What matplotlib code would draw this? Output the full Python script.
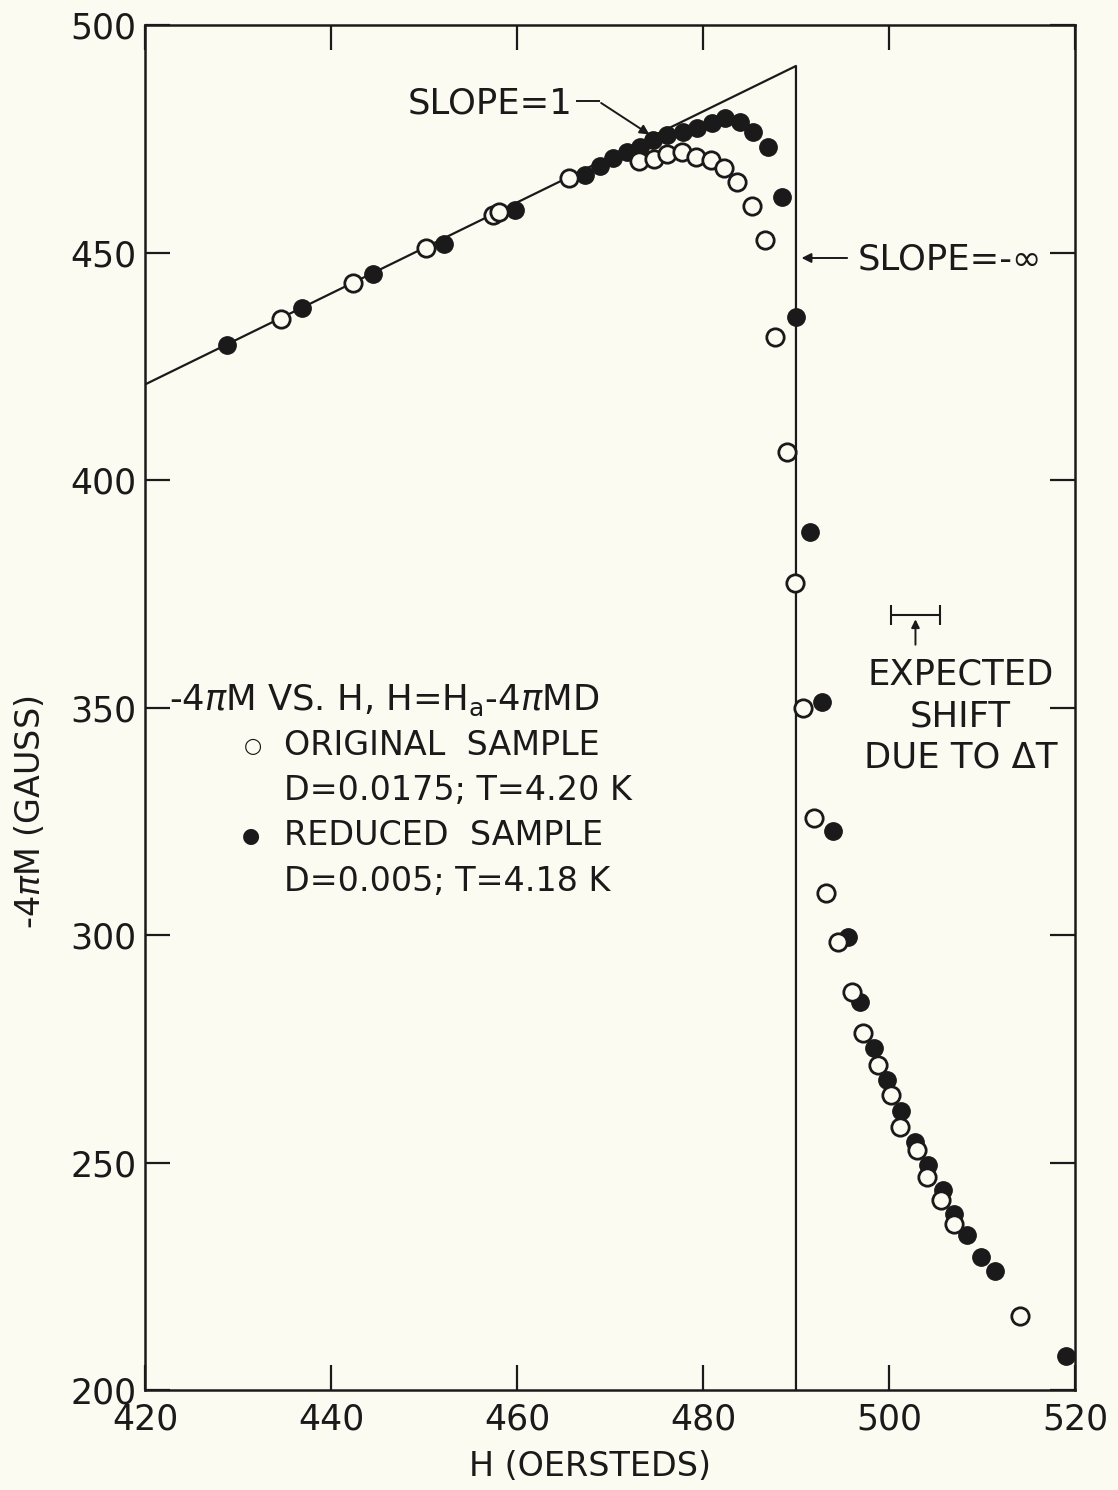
import matplotlib.pyplot as plt

# original sample (open circles), D=0.0175, T=4.20 K
orig_H = [434.6, 442.4, 450.2, 457.4, 458.1, 465.6, 473.1, 474.7, 476.1, 477.7,
          479.2, 480.9, 482.3, 483.7, 485.3, 486.7, 487.7, 489.0, 489.9, 490.8,
          491.9, 493.2, 494.5, 496.0, 497.2, 498.8, 500.2, 501.2, 503.0, 504.1,
          505.6, 507.0, 514.1]
orig_M = [435.4, 443.2, 451.0, 458.2, 458.9, 466.4, 470.1, 470.5, 471.6, 472.1,
          471.0, 470.3, 468.6, 465.5, 460.2, 452.7, 431.5, 406.2, 377.3, 349.8,
          325.7, 309.2, 298.5, 287.5, 278.4, 271.4, 264.8, 257.7, 252.7, 246.9,
          241.7, 236.5, 216.2]

# reduced sample (filled circles), D=0.005, T=4.18 K
red_H = [428.8, 436.9, 444.5, 452.2, 459.8, 467.3, 468.9, 470.3, 471.8, 473.2,
         474.6, 476.1, 477.8, 479.4, 481.0, 482.4, 484.0, 485.4, 487.0, 488.5,
         490.0, 491.5, 492.8, 494.0, 495.6, 496.9, 498.4, 499.8, 501.3, 502.8,
         504.2, 505.8, 507.0, 508.4, 509.9, 511.4, 519.0]
red_M = [429.6, 437.7, 445.3, 451.8, 459.3, 467.0, 469.0, 470.8, 472.1, 473.2,
         474.7, 475.8, 476.5, 477.4, 478.5, 479.6, 478.7, 476.5, 473.2, 462.2,
         435.9, 388.6, 351.3, 322.9, 299.6, 285.3, 275.1, 268.1, 261.4, 254.6,
         249.5, 243.9, 238.7, 234.0, 229.2, 226.2, 207.5]

# ideal curve: slope 1 then vertical drop at Hc
ideal_H = [420, 490, 490]
ideal_M = [421, 491, 200]

xticks = [420, 440, 460, 480, 500, 520]
yticks = [200, 250, 300, 350, 400, 450, 500]

bg = '#fcfbf2'
ink = '#1a1a1a'
fs = 25.5
fl = 24
plt.rcParams['font.family'] = ['DejaVu Sans']
plt.rcParams['mathtext.fontset'] = 'dejavusans'

fig = plt.figure(figsize=(11.18, 14.90), dpi=100, facecolor=bg)
ax = fig.add_axes([0.1297, 0.0671, 0.8318, 0.9161])
ax.set_facecolor(bg)

ax.plot(ideal_H, ideal_M, color=ink, lw=1.6, zorder=2)
ax.plot(red_H, red_M, 'o', ms=12.5, color=ink, mec=ink, zorder=3)
ax.plot(orig_H, orig_M, 'o', ms=12.5, mfc=bg, mec=ink, mew=2.0, zorder=4)

ax.set_xlim(420, 520)
ax.set_ylim(200, 500)
ax.set_xticks(xticks)
ax.set_yticks(yticks)
ax.tick_params(direction='in', length=18, width=1.6, labelsize=25,
               top=True, right=True, colors=ink, pad=6)
ax.tick_params(axis='x', pad=9)
for s in ax.spines.values():
    s.set_linewidth(1.8)
    s.set_color(ink)

fig.text(0.027, 0.455, '-4$\\pi$M (GAUSS)', rotation=90, fontsize=24,
         ha='center', va='center', color=ink)
fig.text(0.528, 0.016, 'H (OERSTEDS)', fontsize=24, ha='center', va='center', color=ink)

# slope annotations
ax.text(466.0, 482.8, 'SLOPE=1', fontsize=fs, ha='right', va='center', color=ink)
ax.plot([466.5, 468.8], [483.2, 483.2], color=ink, lw=1.4)
ax.annotate('', xy=(474.5, 475.6), xytext=(468.8, 483.2),
            arrowprops=dict(arrowstyle='-|>', color=ink, lw=1.4, mutation_scale=14))
ax.annotate('', xy=(490.3, 448.8), xytext=(495.8, 448.8),
            arrowprops=dict(arrowstyle='-|>', color=ink, lw=1.4, mutation_scale=14))
ax.text(496.6, 448.5, 'SLOPE=-∞', fontsize=fs, ha='left', va='center', color=ink)

# expected shift bar
ax.errorbar([502.85], [370.3], xerr=[[2.65], [2.65]], fmt='none', ecolor=ink,
            elinewidth=1.5, capsize=7, capthick=1.5)
ax.annotate('', xy=(502.85, 370.0), xytext=(502.85, 363.2),
            arrowprops=dict(arrowstyle='-|>', color=ink, lw=1.4, mutation_scale=12))
ax.text(507.7, 348.1, 'EXPECTED\nSHIFT\nDUE TO ΔT', fontsize=fs, ha='center',
        va='center', color=ink, linespacing=1.27)

# legend block
ax.text(422.6, 351.5, '-4$\\pi$M VS. H, H=H$_{\\mathrm{a}}$-4$\\pi$MD', fontsize=fs,
        ha='left', va='center', color=ink)
ax.text(431.6, 341.6, '○', fontsize=15, ha='center', va='center', color=ink)
ax.text(435.0, 341.6, 'ORIGINAL  SAMPLE', fontsize=fl, ha='left', va='center', color=ink)
ax.text(435.0, 331.7, 'D=0.0175; T=4.20 K', fontsize=fl, ha='left', va='center', color=ink)
ax.text(431.4, 321.8, '●', fontsize=15, ha='center', va='center', color=ink)
ax.text(435.0, 321.8, 'REDUCED  SAMPLE', fontsize=fl, ha='left', va='center', color=ink)
ax.text(435.0, 311.8, 'D=0.005; T=4.18 K', fontsize=fl, ha='left', va='center', color=ink)

fig.savefig('out.png', dpi=100, facecolor=bg)
